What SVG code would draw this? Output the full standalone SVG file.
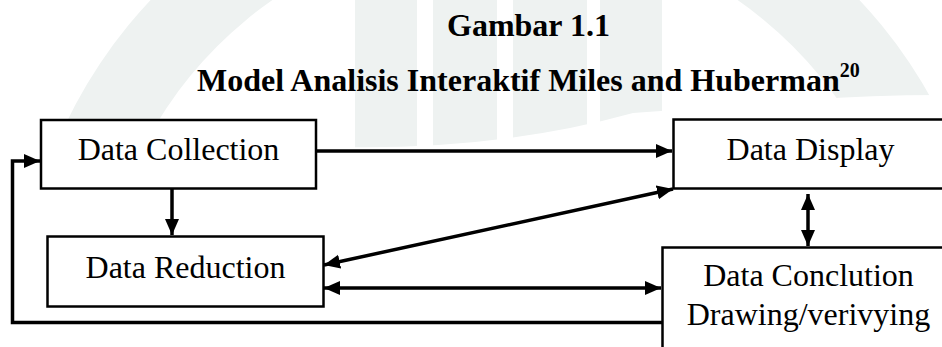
<svg xmlns="http://www.w3.org/2000/svg" width="942" height="347" viewBox="0 0 942 347">
  <style>
    .box { fill: #ffffff; stroke: #000000; stroke-width: 2.5; }
    .lbl { font-family: "Liberation Serif", "Times New Roman", serif; font-size: 32px; fill: #000000; text-anchor: middle; }
    .ttl { font-family: "Liberation Serif", "Times New Roman", serif; font-size: 32px; font-weight: bold; fill: #000000; }
    .con { fill: none; stroke: #000000; stroke-width: 3.5; }
    .arr { marker-end: url(#ah); }
    .dbl { marker-start: url(#ah); marker-end: url(#ah); }
    .wm { fill: #eef2f1; }
  </style>
  <defs>
    <marker id="ah" markerUnits="userSpaceOnUse" markerWidth="17" markerHeight="15" refX="16" refY="7" orient="auto-start-reverse">
      <path d="M0,0 L16,7 L0,14 z" fill="#000000"/>
    </marker>
    <clipPath id="wmclip">
      <path d="M0,0 L942,0 L942,95 Q870,95 807,100 Q700,108 633,113 Q500,150 340,147 Q180,140 60,140 L0,140 Z"/>
    </clipPath>
  </defs>
  <rect width="942" height="347" fill="#ffffff"/>

  <g id="watermark" clip-path="url(#wmclip)">
    <path class="wm" fill-rule="evenodd" d="M18,334 A487,487 0 0 1 992,334 A487,487 0 0 1 18,334 Z M98,334 A407,407 0 0 1 912,334 A407,407 0 0 1 98,334 Z"/>
    <rect class="wm" x="355" y="0" width="62" height="160"/>
    <rect class="wm" x="433" y="0" width="64" height="160"/>
    <rect class="wm" x="513" y="0" width="74" height="160"/>
    <rect class="wm" x="600" y="0" width="62" height="160"/>
  </g>

  <g id="title">
    <text class="ttl" x="447" y="36">Gambar 1.1</text>
    <text class="ttl" x="197" y="91">Model Analisis Interaktif Miles and Huberman<tspan font-size="20" dy="-14">20</tspan></text>
  </g>

  <g id="connectors">
    <line class="con arr" x1="172" y1="189" x2="172" y2="235"/>
    <line class="con arr" x1="317" y1="151" x2="672" y2="151"/>
    <line class="con dbl" x1="324" y1="265" x2="673" y2="189"/>
    <line class="con dbl" x1="808" y1="194" x2="808" y2="246"/>
    <line class="con dbl" x1="324" y1="288" x2="661" y2="288"/>
    <polyline class="con arr" points="662,322.5 12.5,322.5 12.5,161 40,161"/>
  </g>

  <g id="data-collection">
    <rect class="box" x="41" y="120" width="275" height="68.5"/>
    <text class="lbl" x="178.5" y="160">Data Collection</text>
  </g>
  <g id="data-reduction">
    <rect class="box" x="47.5" y="236.5" width="276" height="70"/>
    <text class="lbl" x="185.5" y="277.5">Data Reduction</text>
  </g>
  <g id="data-display">
    <rect class="box" x="673.5" y="119.5" width="280" height="69"/>
    <text class="lbl" x="810.5" y="160">Data Display</text>
  </g>
  <g id="data-conclusion">
    <rect class="box" x="662.5" y="247.5" width="290" height="120"/>
    <text class="lbl" x="808.5" y="286">Data Conclution</text>
    <text class="lbl" x="808.5" y="324.5">Drawing/verivying</text>
  </g>
</svg>
